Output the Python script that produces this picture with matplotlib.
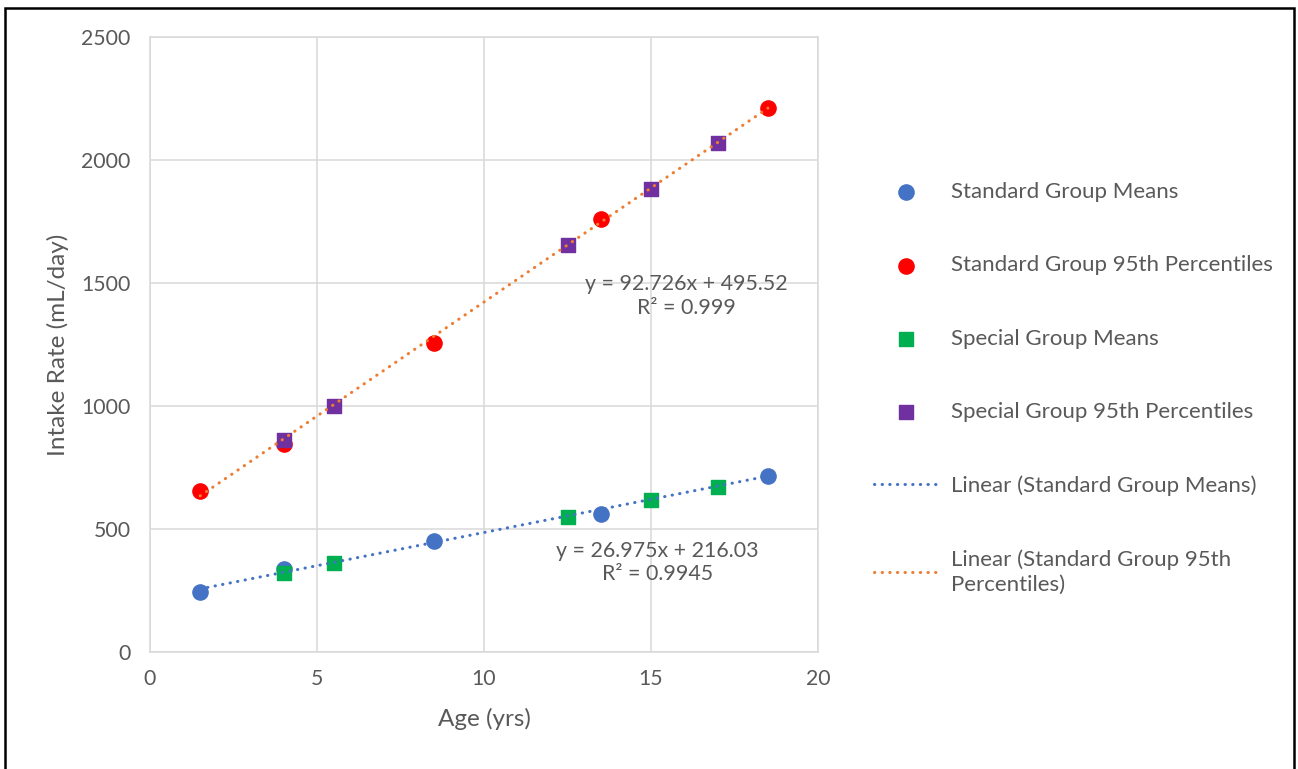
import matplotlib.pyplot as plt
import numpy as np
from matplotlib.patches import Rectangle

# valores
age_std = [1.5, 4, 8.5, 13.5, 18.5]
std_means = [244, 338, 450, 560, 717]
std_p95 = [654, 846, 1256, 1759, 2211]

age_spec = [4, 5.5, 12.5, 15, 17]
spec_means = [322, 363, 550, 618, 669]
spec_p95 = [862, 1001, 1653, 1883, 2070]

# linhas de tendência (do rótulo do Excel)
slope_means, icpt_means, r2_means = 26.975, 216.03, 0.9945
slope_p95, icpt_p95, r2_p95 = 92.726, 495.52, 0.999

plt.rcParams['font.family'] = ['Lato', 'DejaVu Sans']
cinza = '#595959'
grade = '#d9d9d9'

fig = plt.figure(figsize=(12.98, 7.69), dpi=100)
ax = fig.add_axes([150/1298, 1 - 652/769, 668/1298, 615/769])

ax.scatter(age_std, std_means, s=120, color='#4472C4', marker='o', zorder=3,
           label='Standard Group Means')
ax.scatter(age_std, std_p95, s=120, color='#FF0000', marker='o', zorder=3,
           label='Standard Group 95th Percentiles')
ax.scatter(age_spec, spec_means, s=105, color='#00B050', marker='s', zorder=3,
           label='Special Group Means')
ax.scatter(age_spec, spec_p95, s=105, color='#7030A0', marker='s', zorder=3,
           label='Special Group 95th Percentiles')

xs = np.array([min(age_std), max(age_std)])
estilo = dict(linewidth=2.2, dashes=(0.1, 2.4), dash_capstyle='round', zorder=4)
l1, = ax.plot(xs, slope_means * xs + icpt_means, color='#4472C4',
              label='Linear (Standard Group Means)', **estilo)
l2, = ax.plot(xs, slope_p95 * xs + icpt_p95, color='#ED7D31',
              label='Linear (Standard Group 95th\nPercentiles)', **estilo)

# rótulos das tendências
ax.text(16.05, 1447, f'y = {slope_p95}x + {icpt_p95}\nR² = {r2_p95}', ha='center', va='center',
        multialignment='center', fontsize=15.4, color=cinza, linespacing=1.2)
ax.text(15.2, 363, f'y = {slope_means}x + {icpt_means}\nR² = {r2_means}', ha='center', va='center',
        multialignment='center', fontsize=15.4, color=cinza, linespacing=1.2)

ax.set_xlim(0, 20)
ax.set_ylim(0, 2500)
ax.set_xticks(np.arange(0, 21, 5))
ax.set_yticks(np.arange(0, 2501, 500))
ax.grid(True, color=grade, linewidth=1.1)
ax.set_axisbelow(True)
for spine in ax.spines.values():
    spine.set_color(grade)
    spine.set_linewidth(1.1)
ax.tick_params(length=0, labelsize=15.3, labelcolor=cinza)
ax.tick_params(axis='y', pad=14)
ax.tick_params(axis='x', pad=12)

ax.set_xlabel('Age (yrs)', fontsize=17.5, color=cinza, labelpad=14)
ax.set_ylabel('Intake Rate (mL/day)', fontsize=17.5, color=cinza, labelpad=9)

leg = ax.legend(loc='upper left', bbox_to_anchor=(863/1298, 1 - 171/769),
                bbox_transform=fig.transFigure, frameon=False, fontsize=16,
                labelspacing=2.4, handlelength=2.9, handletextpad=0.55, borderpad=0,
                labelcolor=cinza)
leg.get_texts()[-1].set_linespacing(1.3)

# moldura preta
fig.add_artist(Rectangle((5/1298, -0.05), 1289/1298, 1.05 - 7.8/769, transform=fig.transFigure,
                         fill=False, edgecolor='black', linewidth=1.8))

plt.savefig('out.png', dpi=100)
plt.close()
